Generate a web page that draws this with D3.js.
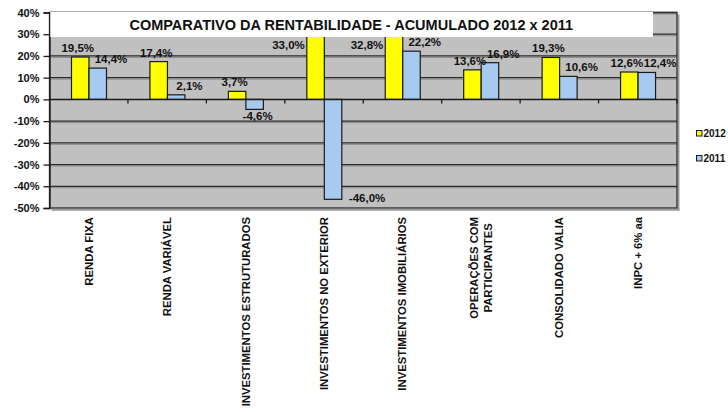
<!DOCTYPE html>
<html>
<head>
<meta charset="utf-8">
<script src="https://cdn.jsdelivr.net/npm/d3@7"></script>
<style>
  body { margin: 0; background: #fff; }
  text { font-family: "Liberation Sans", Arial, sans-serif; font-weight: bold; }
</style>
</head>
<body>
<div id="chart"></div>
<script>
const categories = [
    "RENDA FIXA", "RENDA VARIÁVEL", "INVESTIMENTOS ESTRUTURADOS", "INVESTIMENTOS NO EXTERIOR",
    "INVESTIMENTOS IMOBILIÁRIOS", "OPERAÇÕES COM\nPARTICIPANTES", "CONSOLIDADO VALIA", "INPC + 6% aa"
];
const seriesNames = ["2012", "2011"];
const values2012 = [19.5, 17.4, 3.7, 33.0, 32.8, 13.6, 19.3, 12.6];
const values2011 = [14.4, 2.1, -4.6, -46.0, 22.2, 16.9, 10.6, 12.4];
const yTicks = [-50, -40, -30, -20, -10, 0, 10, 20, 30, 40];
const colors = ["#ffff00", "#a6caf0"];
const title = "COMPARATIVO DA RENTABILIDADE - ACUMULADO 2012 x 2011";

const W = 728, H = 412;
const plot = { left: 49.5, right: 677, top: 12.5, bottom: 208 };
const titleBox = { right: 653, bottom: 37 };

const svg = d3.select("#chart").append("svg")
    .attr("width", W).attr("height", H);

const y = d3.scaleLinear().domain([-50, 40]).range([plot.bottom, plot.top]);
const x = d3.scaleBand().domain(categories).range([plot.left, plot.right]);
const x1 = d3.scaleBand().domain(seriesNames).range([22, 57]);

const rows = categories.map((c, i) => ({ cat: c, vals: [values2012[i], values2011[i]] }));

// plot background
svg.append("rect")
    .attr("x", plot.left).attr("y", plot.top)
    .attr("width", plot.right - plot.left).attr("height", plot.bottom - plot.top)
    .attr("fill", "#c0c0c0");

// gridlines
const grid = svg.append("g");
yTicks.filter(t => t !== -50 && t !== 0).forEach(t => {
    grid.append("line")
        .attr("x1", plot.left).attr("x2", plot.right)
        .attr("y1", y(t) + 1.5).attr("y2", y(t) + 1.5)
        .attr("stroke", "#8c8c8c").attr("stroke-width", 1);
    grid.append("line")
        .attr("x1", plot.left).attr("x2", plot.right)
        .attr("y1", y(t)).attr("y2", y(t))
        .attr("stroke", "#2a2a2a").attr("stroke-width", 1.3);
});

// border shadow right / bottom
svg.append("line")
    .attr("x1", plot.right + 1.5).attr("x2", plot.right + 1.5)
    .attr("y1", plot.top + 2).attr("y2", plot.bottom + 2)
    .attr("stroke", "#9a9a9a").attr("stroke-width", 2);
svg.append("line")
    .attr("x1", plot.left + 2).attr("x2", plot.right + 2.5)
    .attr("y1", plot.bottom + 1.8).attr("y2", plot.bottom + 1.8)
    .attr("stroke", "#9a9a9a").attr("stroke-width", 2);
svg.append("rect")
    .attr("x", plot.left).attr("y", plot.top)
    .attr("width", plot.right - plot.left).attr("height", plot.bottom - plot.top)
    .attr("fill", "none").attr("stroke", "#2a2a2a").attr("stroke-width", 1.3);

// bars
svg.append("clipPath").attr("id", "clip")
    .append("rect")
    .attr("x", plot.left).attr("y", plot.top)
    .attr("width", plot.right - plot.left).attr("height", plot.bottom - plot.top);

const groups = svg.append("g").attr("clip-path", "url(#clip)")
    .selectAll("g").data(rows).join("g")
    .attr("transform", d => `translate(${x(d.cat)},0)`);

groups.selectAll("rect")
    .data(d => d.vals.map((v, j) => ({ v, s: seriesNames[j], j })))
    .join("rect")
    .attr("x", d => x1(d.s))
    .attr("y", d => y(Math.max(0, d.v)))
    .attr("width", x1.bandwidth())
    .attr("height", d => Math.abs(y(d.v) - y(0)))
    .attr("fill", d => colors[d.j])
    .attr("stroke", "#1a1a1a").attr("stroke-width", 1.2);

// zero axis with ticks at group boundaries
svg.append("line")
    .attr("x1", plot.left).attr("x2", plot.right)
    .attr("y1", y(0)).attr("y2", y(0))
    .attr("stroke", "#1a1a1a").attr("stroke-width", 1.5);
categories.slice(1).forEach(c => {
    svg.append("line")
        .attr("x1", x(c)).attr("x2", x(c))
        .attr("y1", y(0)).attr("y2", y(0) + 4)
        .attr("stroke", "#1a1a1a").attr("stroke-width", 1.3);
});
svg.append("line")
    .attr("x1", plot.right).attr("x2", plot.right)
    .attr("y1", y(0)).attr("y2", y(0) + 4)
    .attr("stroke", "#1a1a1a").attr("stroke-width", 1.3);

// y axis
const yAxis = svg.append("g")
    .attr("transform", `translate(${plot.left},0)`)
    .call(d3.axisLeft(y).tickValues(yTicks).tickSize(6).tickPadding(4).tickFormat(d => d + "%"));
yAxis.select(".domain").attr("stroke", "#1a1a1a").attr("stroke-width", 1.3);
yAxis.selectAll(".tick line").attr("stroke", "#1a1a1a").attr("stroke-width", 1.3);
yAxis.selectAll("text")
    .style("font-size", "11px").style("font-weight", "bold")
    .style("font-family", "'Liberation Sans', Arial, sans-serif")
    .attr("fill", "#111");

// title box drawn over the bars
svg.append("rect")
    .attr("x", plot.left + 0.8).attr("y", plot.top - 0.5)
    .attr("width", titleBox.right - plot.left - 0.8).attr("height", titleBox.bottom - plot.top + 0.5)
    .attr("fill", "#fff");
svg.append("text")
    .attr("x", (plot.left + titleBox.right) / 2)
    .attr("y", 30)
    .attr("text-anchor", "middle")
    .style("font-size", "14.5px")
    .attr("fill", "#111")
    .text(title);

// data labels
const fmt = v => v.toFixed(1).replace(".", ",") + "%";
rows.forEach(r => {
    r.vals.forEach((v, j) => {
        const bx = x(r.cat) + x1(seriesNames[j]);
        const bw = x1.bandwidth();
        const t = svg.append("text")
            .style("font-size", "11.5px")
            .attr("fill", "#111")
            .text(fmt(v));
        if (v >= 0) {
            if (y(v) < titleBox.bottom + 4) {
                t.attr("x", bx - 2).attr("y", titleBox.bottom + 12).attr("text-anchor", "end");
            } else {
                const cx = j === 0 ? bx + bw / 2 - 2.5 : bx + bw + 4.5;
                t.attr("x", cx).attr("y", y(v) - 5).attr("text-anchor", "middle");
            }
        } else {
            if (y(v) + 12 > plot.bottom) {
                t.attr("x", bx + bw + 7).attr("y", y(v) + 3).attr("text-anchor", "start");
            } else {
                t.attr("x", bx + bw / 2 + 3).attr("y", y(v) + 11).attr("text-anchor", "middle");
            }
        }
    });
});

// category labels (rotated)
categories.forEach(c => {
    const lines = c.split("\n");
    const g = svg.append("g")
        .attr("transform", `translate(${x(c) + x.bandwidth() / 2},217) rotate(-90)`);
    const texts = lines.map((ln, i) => g.append("text")
        .attr("y", (i - (lines.length - 1) / 2) * 14)
        .attr("dy", "0.35em")
        .attr("text-anchor", "middle")
        .style("font-size", "11.3px")
        .attr("fill", "#111")
        .text(ln));
    const maxW = d3.max(texts, t => t.node().getComputedTextLength());
    texts.forEach(t => t.attr("x", -maxW / 2));
});

// legend
const legend = svg.append("g");
seriesNames.forEach((s, i) => {
    const ly = 133.5 + i * 25;
    legend.append("rect")
        .attr("x", 696.5).attr("y", ly - 3)
        .attr("width", 5.5).attr("height", 5.5)
        .attr("fill", colors[i])
        .attr("stroke", "#1a1a1a").attr("stroke-width", 1);
    legend.append("text")
        .attr("x", 703.5).attr("y", ly + 3.5)
        .style("font-size", "10px")
        .attr("fill", "#111")
        .text(s);
});
</script>
</body>
</html>
